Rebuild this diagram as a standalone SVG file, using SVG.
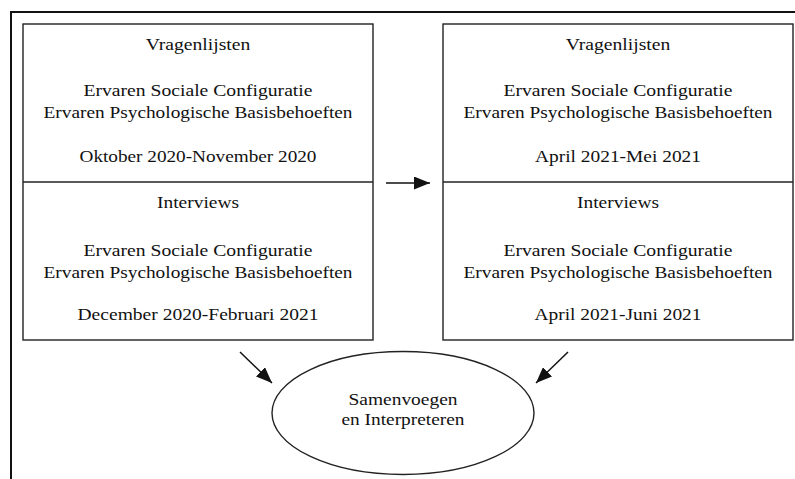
<svg xmlns="http://www.w3.org/2000/svg" width="795" height="479" viewBox="0 0 795 479">
<style>
.box{fill:#fff;stroke:#222;stroke-width:1.4}
.t{font-family:'Liberation Serif','Times New Roman',serif;font-size:16.5px;fill:#111;text-anchor:middle}
.c{stroke:#111;stroke-width:1.5;fill:none}
</style>
<defs>
<marker id="ah2" viewBox="0 0 10 10" refX="10" refY="5" markerWidth="16" markerHeight="13" markerUnits="userSpaceOnUse" orient="auto" preserveAspectRatio="none">
<path d="M0,0 L10,5 L0,10 Z" fill="#111"/>
</marker>
</defs>
<rect x="0" y="0" width="795" height="479" fill="#fff"/>
<g id="frame">
<path d="M11,479 L11,12 L795,12" fill="none" stroke="#111" stroke-width="2"/>
</g>
<g id="left-box">
<rect class="box" x="23" y="24" width="350" height="316"/>
<line x1="23" y1="182" x2="373" y2="182" stroke="#222" stroke-width="1.4"/>
<text class="t" x="198" y="50" textLength="104.5" lengthAdjust="spacingAndGlyphs">Vragenlijsten</text>
<text class="t" x="198" y="96" textLength="229" lengthAdjust="spacingAndGlyphs">Ervaren Sociale Configuratie</text>
<text class="t" x="198" y="118" textLength="309" lengthAdjust="spacingAndGlyphs">Ervaren Psychologische Basisbehoeften</text>
<text class="t" x="198" y="162" textLength="237" lengthAdjust="spacingAndGlyphs">Oktober 2020-November 2020</text>
<text class="t" x="198" y="208" textLength="82" lengthAdjust="spacingAndGlyphs">Interviews</text>
<text class="t" x="198" y="256" textLength="229" lengthAdjust="spacingAndGlyphs">Ervaren Sociale Configuratie</text>
<text class="t" x="198" y="278" textLength="309" lengthAdjust="spacingAndGlyphs">Ervaren Psychologische Basisbehoeften</text>
<text class="t" x="198" y="320" textLength="241" lengthAdjust="spacingAndGlyphs">December 2020-Februari 2021</text>
</g>
<g id="right-box">
<rect class="box" x="443" y="24" width="350" height="316"/>
<line x1="443" y1="182" x2="793" y2="182" stroke="#222" stroke-width="1.4"/>
<text class="t" x="618" y="50" textLength="104.5" lengthAdjust="spacingAndGlyphs">Vragenlijsten</text>
<text class="t" x="618" y="96" textLength="229" lengthAdjust="spacingAndGlyphs">Ervaren Sociale Configuratie</text>
<text class="t" x="618" y="118" textLength="309" lengthAdjust="spacingAndGlyphs">Ervaren Psychologische Basisbehoeften</text>
<text class="t" x="618" y="162" textLength="166" lengthAdjust="spacingAndGlyphs">April 2021-Mei 2021</text>
<text class="t" x="618" y="208" textLength="82" lengthAdjust="spacingAndGlyphs">Interviews</text>
<text class="t" x="618" y="256" textLength="229" lengthAdjust="spacingAndGlyphs">Ervaren Sociale Configuratie</text>
<text class="t" x="618" y="278" textLength="309" lengthAdjust="spacingAndGlyphs">Ervaren Psychologische Basisbehoeften</text>
<text class="t" x="618" y="320" textLength="167" lengthAdjust="spacingAndGlyphs">April 2021-Juni 2021</text>
</g>
<g id="merge">
<ellipse cx="403" cy="413" rx="131" ry="61.5" fill="#fff" stroke="#222" stroke-width="1.4"/>
<text class="t" x="403" y="405" textLength="109" lengthAdjust="spacingAndGlyphs">Samenvoegen</text>
<text class="t" x="403" y="425" textLength="123" lengthAdjust="spacingAndGlyphs">en Interpreteren</text>
</g>
<g id="connectors">
<line class="c" x1="386" y1="183" x2="430" y2="183" marker-end="url(#ah2)"/>
<line class="c" x1="240" y1="352" x2="272" y2="383" marker-end="url(#ah2)"/>
<line class="c" x1="568" y1="352" x2="536" y2="383" marker-end="url(#ah2)"/>
</g>
</svg>
